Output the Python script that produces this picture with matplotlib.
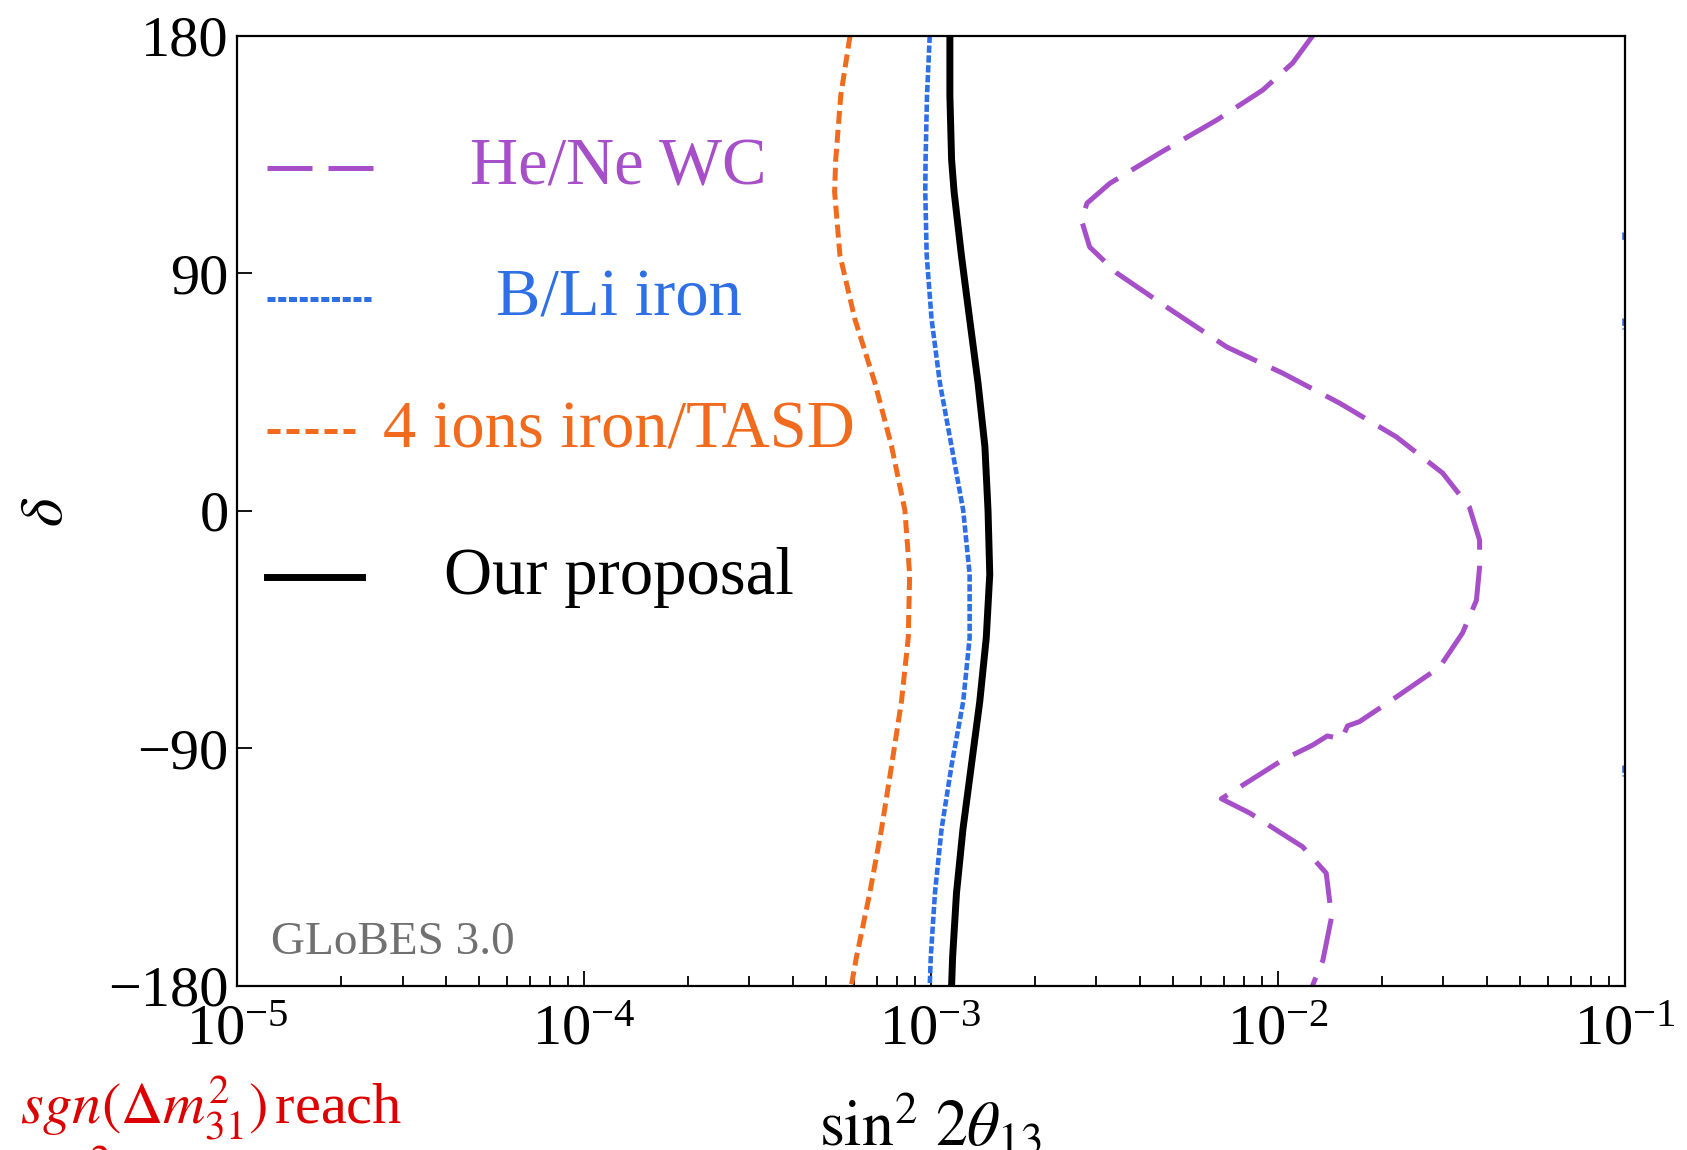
import numpy as np
import matplotlib
matplotlib.use('Agg')
import matplotlib.pyplot as plt

plt.rcParams['font.family'] = 'serif'
plt.rcParams['font.serif'] = ['Liberation Serif', 'DejaVu Serif']
plt.rcParams['mathtext.fontset'] = 'stix'

# sin^2 2theta13 reach vs delta (deg)
delta_ours = [180, 157.2, 133.0, 120.9, 96.8, 72.6, 48.4, 24.3, 0.1, -24.1, -48.2,
              -72.4, -96.5, -120.7, -144.9, -169, -180]
x_ours = [1.135e-3, 1.135e-3, 1.148e-3, 1.167e-3, 1.225e-3, 1.294e-3, 1.368e-3,
          1.432e-3, 1.462e-3, 1.479e-3, 1.445e-3, 1.384e-3, 1.309e-3, 1.238e-3,
          1.186e-3, 1.156e-3, 1.148e-3]

delta_bli = delta_ours
x_bli = [0.993e-3, 0.975e-3, 0.966e-3, 0.964e-3, 0.973e-3, 1.005e-3, 1.062e-3,
         1.148e-3, 1.240e-3, 1.294e-3, 1.294e-3, 1.240e-3, 1.148e-3, 1.074e-3,
         1.028e-3, 1.0e-3, 0.993e-3]

delta_4ions = delta_ours
x_4ions = [5.85e-4, 5.50e-4, 5.32e-4, 5.28e-4, 5.47e-4, 6.04e-4, 6.90e-4, 7.71e-4,
           8.42e-4, 8.69e-4, 8.61e-4, 8.23e-4, 7.71e-4, 7.21e-4, 6.67e-4, 6.11e-4,
           5.90e-4]

delta_hene = [180, 169.6, 159.4, 148, 135.5, 124, 116.5, 110, 99.9, 90, 77.1, 62,
              52.1, 40.7, 27.9, 14.2, 1.3, -11.2, -21.4, -34, -46.4, -59.3, -70.6,
              -80.0, -81.6, -86.5, -85.4, -88.9, -94.5, -109.2, -114.6, -127.4,
              -137.4, -154, -170.4, -180]
x_hene = [1.262e-2, 1.104e-2, 9.06e-3, 6.67e-3, 4.57e-3, 3.28e-3, 2.82e-3, 2.72e-3,
          2.87e-3, 3.44e-3, 4.79e-3, 7.13e-3, 1.033e-2, 1.51e-2, 2.20e-2, 2.99e-2,
          3.57e-2, 3.82e-2, 3.82e-2, 3.74e-2, 3.41e-2, 2.93e-2, 2.20e-2,
          1.72e-2, 1.59e-2, 1.53e-2, 1.39e-2, 1.26e-2, 1.033e-2, 6.88e-3, 8.30e-3,
          1.18e-2, 1.38e-2, 1.43e-2, 1.35e-2, 1.26e-2]

# fragments of the B/Li contour at the right edge
edge_bli = [[105.5, 102.0], [73.0, 69.0], [-96.5, -100.5]]

purple = '#A64FC8'
blue = '#2F6FE6'
orange = '#F06B1E'

fig = plt.figure(figsize=(16.87, 11.5), dpi=100)
ax = fig.add_axes([0.1405, 0.143, 0.8225, 0.826])

kw = dict(solid_joinstyle='round', dash_joinstyle='round')
ax.plot(x_hene, delta_hene, color=purple, lw=3.6, dashes=(9, 3.2), **kw)
ax.plot(x_bli, delta_bli, color=blue, lw=3.3, dashes=(1.6, 0.55), **kw)
ax.plot(x_4ions, delta_4ions, color=orange, lw=3.6, dashes=(2.6, 1.2), **kw)
ax.plot(x_ours, delta_ours, color='black', lw=5, **kw)
for seg in edge_bli:
    ax.plot([0.0995, 0.0995], seg, color=blue, lw=3.3, dashes=(1.6, 0.55))

ax.set_xscale('log')
ax.set_xlim(1e-5, 1e-1)
ax.set_ylim(-180, 180)
ax.set_yticks([-180, -90, 0, 90, 180])
ax.tick_params(which='both', direction='in', labelsize=42, width=1.3)
ax.tick_params(which='major', length=11)
ax.tick_params(which='minor', length=7)
ax.tick_params(axis='x', pad=14)
ax.tick_params(axis='y', pad=6)
for s in ax.spines.values():
    s.set_linewidth(1.6)

# hand-placed legend
rows = [(0.861, 0.102, purple, dict(dashes=(9, 3.2)), 'He/Ne WC'),
        (0.723, 0.0965, blue, dict(dashes=(1.6, 0.55)), 'B/Li iron'),
        (0.584, 0.085, orange, dict(dashes=(2.6, 1.2)), '4 ions iron/TASD'),
        (0.430, 0.090, 'black', {}, 'Our proposal')]
for y, x1, c, st, lab in rows:
    lw = 5 if c == 'black' else 3.6
    ax.plot([0.0216, x1], [y, y], color=c, lw=lw, transform=ax.transAxes, **st)
    ax.text(0.275, y, lab, color=c, fontsize=48, ha='center', va='center',
            transform=ax.transAxes)

ax.text(0.0245, 0.033, 'GLoBES 3.0', color='#707070', fontsize=34,
        transform=ax.transAxes, ha='left', va='baseline')

fig.text(0.5515, 0.02, r'$\sin^2\,2\theta_{13}$', fontsize=46, ha='center',
         va='center')
fig.text(0.028, 0.555, r'$\delta$', fontsize=44, rotation=90, ha='center',
         va='center')
fig.text(0.012, 0.037, r'$sgn(\Delta m^2_{31})\,$reach', color='#DD0000',
         fontsize=42, ha='left', va='center')
fig.text(0.012, -0.022, r'$\sin^2 2\theta_{13}(3\sigma)$', color='#DD0000',
         fontsize=42, ha='left', va='center')

fig.savefig('out.png', dpi=100)
